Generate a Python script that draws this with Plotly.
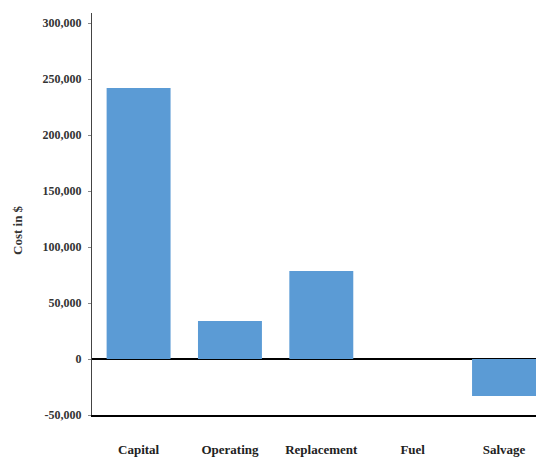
import plotly.graph_objects as go

categories = ["Capital", "Operating", "Replacement", "Fuel", "Salvage"]
costs = [242000, 34000, 78500, 0, -33000]
tick_vals = [-50000, 0, 50000, 100000, 150000, 200000, 250000, 300000]
tick_text = ["-50,000", "0", "50,000", "100,000", "150,000", "200,000", "250,000", "300,000"]
y_title = "Cost in $"

SERIF = "Liberation Serif"

fig = go.Figure(
    go.Bar(x=categories, y=costs, marker=dict(color="#5B9BD5", line=dict(width=0)))
)

fig.update_layout(
    width=536, height=457,
    margin=dict(l=92, r=0, t=13, b=42),
    paper_bgcolor="white", plot_bgcolor="white",
    bargap=0.3,
    showlegend=False,
    font=dict(family=SERIF, color="#333333"),
)

fig.update_xaxes(
    range=[-0.51, 4.35],
    showline=True, linecolor="black", linewidth=1.5,
    ticks="", showgrid=False,
    tickfont=dict(family=SERIF, size=13, color="#222222", weight="bold"),
    ticklabelstandoff=22,
)

fig.update_yaxes(
    range=[-50000, 309000],
    tickvals=tick_vals, ticktext=tick_text,
    showline=True, linecolor="#444444", linewidth=1,
    ticks="outside", ticklen=3, tickcolor="#888888",
    showgrid=False,
    zeroline=True, zerolinecolor="black", zerolinewidth=1.5,
    tickfont=dict(family=SERIF, size=12, color="#333333", weight="bold"),
    ticklabelstandoff=4,
)

fig.add_annotation(
    text=y_title, xref="paper", yref="paper",
    x=(17 - 92) / 444, y=(415 - 230) / 402,
    showarrow=False, textangle=-90,
    font=dict(family=SERIF, size=13, color="#333333", weight="bold"),
    xanchor="center", yanchor="middle",
)

fig.write_html("out.html")
